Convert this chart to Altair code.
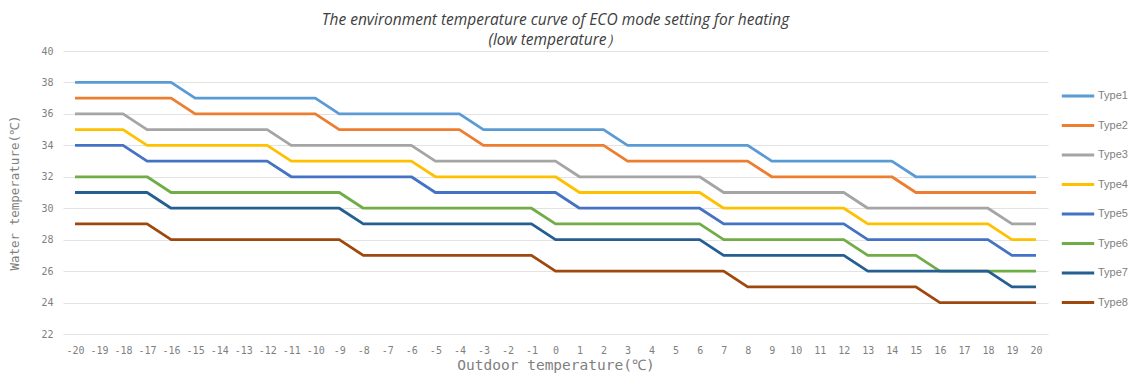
import altair as alt
import pandas as pd

outdoor = ["-20", "-19", "-18", "-17", "-16", "-15", "-14", "-13", "-12", "-11", "-10",
           "-9", "-8", "-7", "-6", "-5", "-4", "-3", "-2", "-1", "0", "1", "2", "3", "4",
           "5", "6", "7", "8", "9", "10", "11", "12", "13", "14", "15", "16", "17", "18",
           "19", "20"]

type1 = [38, 38, 38, 38, 38, 37, 37, 37, 37, 37, 37, 36, 36, 36, 36, 36, 36, 35, 35, 35, 35,
         35, 35, 34, 34, 34, 34, 34, 34, 33, 33, 33, 33, 33, 33, 32, 32, 32, 32, 32, 32]
type2 = [37, 37, 37, 37, 37, 36, 36, 36, 36, 36, 36, 35, 35, 35, 35, 35, 35, 34, 34, 34, 34,
         34, 34, 33, 33, 33, 33, 33, 33, 32, 32, 32, 32, 32, 32, 31, 31, 31, 31, 31, 31]
type3 = [36, 36, 36, 35, 35, 35, 35, 35, 35, 34, 34, 34, 34, 34, 34, 33, 33, 33, 33, 33, 33,
         32, 32, 32, 32, 32, 32, 31, 31, 31, 31, 31, 31, 30, 30, 30, 30, 30, 30, 29, 29]
type4 = [35, 35, 35, 34, 34, 34, 34, 34, 34, 33, 33, 33, 33, 33, 33, 32, 32, 32, 32, 32, 32,
         31, 31, 31, 31, 31, 31, 30, 30, 30, 30, 30, 30, 29, 29, 29, 29, 29, 29, 28, 28]
type5 = [34, 34, 34, 33, 33, 33, 33, 33, 33, 32, 32, 32, 32, 32, 32, 31, 31, 31, 31, 31, 31,
         30, 30, 30, 30, 30, 30, 29, 29, 29, 29, 29, 29, 28, 28, 28, 28, 28, 28, 27, 27]
type6 = [32, 32, 32, 32, 31, 31, 31, 31, 31, 31, 31, 31, 30, 30, 30, 30, 30, 30, 30, 30, 29,
         29, 29, 29, 29, 29, 29, 28, 28, 28, 28, 28, 28, 27, 27, 27, 26, 26, 26, 26, 26]
type7 = [31, 31, 31, 31, 30, 30, 30, 30, 30, 30, 30, 30, 29, 29, 29, 29, 29, 29, 29, 29, 28,
         28, 28, 28, 28, 28, 28, 27, 27, 27, 27, 27, 27, 26, 26, 26, 26, 26, 26, 25, 25]
type8 = [29, 29, 29, 29, 28, 28, 28, 28, 28, 28, 28, 28, 27, 27, 27, 27, 27, 27, 27, 27, 26,
         26, 26, 26, 26, 26, 26, 26, 25, 25, 25, 25, 25, 25, 25, 25, 24, 24, 24, 24, 24]

series_names = ["Type1", "Type2", "Type3", "Type4", "Type5", "Type6", "Type7", "Type8"]
series_values = [type1, type2, type3, type4, type5, type6, type7, type8]
series_colors = ["#5B9BD5", "#ED7D31", "#A5A5A5", "#FFC000", "#4472C4", "#70AD47",
                 "#255E91", "#9E480E"]

rows = []
for name, vals in zip(series_names, series_values):
    for xl, v in zip(outdoor, vals):
        rows.append({"series": name, "outdoor": xl, "water": v})
df = pd.DataFrame(rows)

chart = alt.Chart(df).mark_line(strokeWidth=2.8, strokeJoin="round").encode(
    x=alt.X("outdoor:O", sort=outdoor,
            scale=alt.Scale(type="point", padding=0.5),
            axis=alt.Axis(title="Outdoor temperature(\u2103)", labelAngle=0,
                          labelFont="DejaVu Sans Mono", labelFontSize=10,
                          labelColor="#7f7f7f", labelPadding=11, ticks=False,
                          domain=False, grid=False,
                          titleFont="DejaVu Sans Mono", titleFontSize=14.5,
                          titleFontWeight="normal", titleColor="#7f7f7f",
                          titlePadding=3)),
    y=alt.Y("water:Q",
            scale=alt.Scale(domain=[22, 40], nice=False, zero=False),
            axis=alt.Axis(title="Water temperature(\u2103)", values=list(range(22, 41, 2)),
                          labelFont="DejaVu Sans Mono", labelFontSize=10,
                          labelColor="#7f7f7f", labelPadding=10, ticks=False,
                          domain=False, gridColor="#E3E3E3", gridWidth=1,
                          titleFont="DejaVu Sans Mono", titleFontSize=12.5,
                          titleFontWeight="normal", titleColor="#7f7f7f",
                          titlePadding=19)),
    color=alt.Color("series:N", sort=series_names,
                    scale=alt.Scale(domain=series_names, range=series_colors),
                    legend=alt.Legend(title=None, orient="none", legendX=997, legendY=27,
                                      symbolType="stroke", symbolSize=1050,
                                      symbolStrokeWidth=2.8, labelFont="Liberation Sans",
                                      labelFontSize=11, labelColor="#7f7f7f",
                                      labelOffset=2, rowPadding=5.5)),
).properties(
    width=985,
    height=283,
    title=alt.TitleParams(
        text=["The environment temperature curve of ECO mode setting for heating",
              "(low temperature\uff09"],
        font="Open Sans", fontStyle="italic", fontWeight="normal", fontSize=15.5,
        color="#404040", anchor="middle", lineHeight=20, offset=-2),
    autosize=alt.AutoSizeParams(type="none"),
    padding={"left": 55, "top": 43, "right": 83, "bottom": 40},
).configure_view(stroke=None)

chart.save("out.html", embed_options={"renderer": "svg", "actions": False})
